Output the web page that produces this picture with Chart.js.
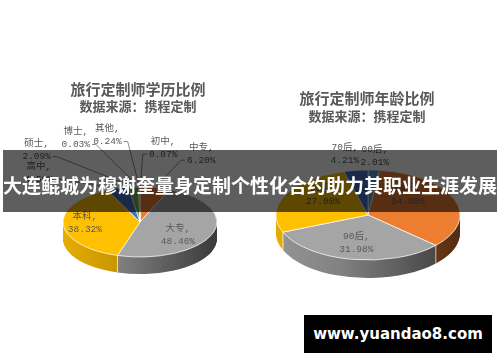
<!DOCTYPE html>
<html><head><meta charset="utf-8">
<script src="https://cdn.jsdelivr.net/npm/chart.js@4.4.1/dist/chart.umd.min.js"></script>
<style>
html,body{margin:0;padding:0;background:#fff;width:500px;height:362px;overflow:hidden;}
#wrap{position:relative;width:500px;height:362px;}
canvas{position:absolute;top:0;}
.t{position:absolute;color:#595959;font-family:"Noto Sans CJK SC";font-weight:700;text-align:center;white-space:nowrap;line-height:1;}
#banner{position:absolute;left:3px;top:150px;width:494px;height:62px;background:rgba(0,0,0,0.63);}
#bannerText{position:absolute;left:0;top:150px;width:500px;height:62px;line-height:70px;color:#fff;font-weight:700;font-size:19px;font-family:"Noto Sans CJK SC";text-align:center;white-space:nowrap;}
#wm{position:absolute;left:304px;top:315px;width:188px;height:38px;background:#000;color:#fff;font-weight:700;font-size:15px;font-family:"DejaVu Sans";text-align:center;line-height:38px;}
</style></head>
<body><div id="wrap">
<canvas id="c1" width="250" height="362" style="left:0"></canvas>
<canvas id="c2" width="250" height="362" style="left:250px"></canvas>
<div class="t" style="left:13px;width:250px;top:81px;font-size:15px;">旅行定制师学历比例</div>
<div class="t" style="left:13px;width:250px;top:99px;font-size:13px;">数据来源：携程定制</div>
<div class="t" style="left:242px;width:250px;top:90px;font-size:15px;">旅行定制师年龄比例</div>
<div class="t" style="left:242px;width:250px;top:109px;font-size:13px;">数据来源：携程定制</div>
<div id="banner"></div>
<div id="bannerText">大连鲲城为穆谢奎量身定制个性化合约助力其职业生涯发展</div>
<div id="wm">www.yuandao8.com</div>
</div>
<script>
// ---- data ----
const eduLabels = ['初中','中专','大专','本科','高中','硕士','博士','其他'];
const eduValues = [0.07, 6.20, 48.46, 38.32, 4.59, 2.09, 0.03, 0.24];
const ageLabels = ['00后','80后','90后','85后','70后'];
const ageValues = [2.01, 34.80, 31.98, 27.00, 4.21];

// ---- styles ----
const eduColors = ['#5B9BD5','#ED7D31','#A5A5A5','#FFC000','#4472C4','#70AD47','#264478','#9E480E'];
const ageColors = ['#5B9BD5','#ED7D31','#A5A5A5','#FFC000','#4472C4'];
const eduLabelPos = [
  {f:1,dx:23,dy:-39.5,line:true},
  {f:1,dx:46,dy:-34,line:true},
  {f:0.6,dx:-5.5,dy:5.4},
  {f:0.6,dx:-9,dy:-0.5},
  {f:1,dx:-79,dy:-16,line:true},
  {f:1,dx:-97,dy:-37,line:true},
  {f:1,dx:-63,dy:-49,line:true},
  {f:1,dx:-32,dy:-52,line:true}
];
const ageLabelPos = [
  {f:1,dx:1,dy:-14},
  {f:0.6,dx:-12,dy:-11},
  {f:0.6,dx:-2,dy:1.4},
  {f:0.6,dx:4.5,dy:-7.6},
  {f:1,dx:-11,dy:-16}
];

function shade(hex, f){
  const n=parseInt(hex.slice(1),16);
  const r=(n>>16)&255,g=(n>>8)&255,b=n&255;
  return 'rgb('+Math.round(r*f)+','+Math.round(g*f)+','+Math.round(b*f)+')';
}

function pie3d(cfg){
  return {
    id:'pie3d',
    beforeDatasetsDraw(chart){
      const ctx=chart.ctx, arcs=chart.getDatasetMeta(0).data;
      const cx=arcs[0].x, cy=arcs[0].y, r=arcs[0].outerRadius, k=cfg.k;
      const colors=chart.data.datasets[0].backgroundColor;
      const grads=colors.map(c=>{
        const g=ctx.createLinearGradient(-r,0,r,0);
        g.addColorStop(0,shade(c,0.9));
        g.addColorStop(0.35,shade(c,0.78));
        g.addColorStop(1,shade(c,0.35));
        return g;
      });
      for(let d=cfg.depth; d>=1; d--){
        arcs.forEach((a,i)=>{
          ctx.save(); ctx.translate(cx,cy+d); ctx.scale(1,k);
          ctx.beginPath(); ctx.moveTo(0,0); ctx.arc(0,0,r,a.startAngle,a.endAngle); ctx.closePath();
          ctx.fillStyle=grads[i]; ctx.fill(); ctx.restore();
        });
      }
      ctx.save();
      ctx.strokeStyle='rgba(255,255,255,0.7)'; ctx.lineWidth=1;
      arcs.forEach(a=>{
        const s=Math.sin(a.startAngle);
        if(s>0.05){
          const x=cx+r*Math.cos(a.startAngle), y=cy+k*r*s;
          ctx.beginPath(); ctx.moveTo(x,y); ctx.lineTo(x,y+cfg.depth); ctx.stroke();
        }
      });
      ctx.restore();
      ctx.save(); ctx.translate(cx,cy); ctx.scale(1,k); ctx.translate(-cx,-cy);
    },
    afterDatasetsDraw(chart){ chart.ctx.restore(); },
    afterDraw(chart){
      const ctx=chart.ctx, arcs=chart.getDatasetMeta(0).data;
      const cx=arcs[0].x, cy=arcs[0].y, r=arcs[0].outerRadius, k=cfg.k;
      const labels=chart.data.labels, values=chart.data.datasets[0].data;
      ctx.save();
      ctx.font='9.5px "Liberation Mono","Noto Sans CJK SC"';
      ctx.fillStyle='#595959'; ctx.textAlign='center'; ctx.textBaseline='middle';
      ctx.strokeStyle='#8c8c8c'; ctx.lineWidth=1;
      arcs.forEach((a,i)=>{
        const p=cfg.pos[i];
        const mid=(a.startAngle+a.endAngle)/2;
        const ax=cx+p.f*r*Math.cos(mid), ay=cy+p.f*k*r*Math.sin(mid);
        const lx=ax+p.dx, ly=ay+p.dy;
        const name=labels[i]+',', val=values[i].toFixed(2)+'%';
        ctx.fillText(name,lx,ly-6.5);
        ctx.fillText(val,lx,ly+6.5);
        if(p.line){
          const w=Math.max(ctx.measureText(name).width, ctx.measureText(val).width);
          const right = ax>lx;
          const sx = right ? lx+w/2+2 : lx-w/2-2, sy=ly+6.5;
          ctx.beginPath(); ctx.moveTo(sx,sy); ctx.lineTo(sx+(right?4:-4),sy); ctx.lineTo(ax,ay); ctx.stroke();
        }
      });
      ctx.restore();
    }
  };
}

function makeChart(id, labels, values, colors, padding, cfg){
  return new Chart(document.getElementById(id),{
    type:'pie',
    data:{labels:labels, datasets:[{data:values, backgroundColor:colors, borderColor:'#ffffff', borderWidth:1}]},
    options:{
      responsive:false, animation:false, events:[],
      layout:{padding:padding},
      plugins:{legend:{display:false}, tooltip:{enabled:false}, title:{display:false}}
    },
    plugins:[pie3d(cfg)]
  });
}

makeChart('c1', eduLabels, eduValues, eduColors,
  {left:62.5,right:32.5,top:144.5,bottom:62.5},
  {k:35/77, depth:17, pos:eduLabelPos});
makeChart('c2', ageLabels, ageValues, ageColors,
  {left:25.5,right:39.5,top:122.5,bottom:54.5},
  {k:45/92, depth:18, pos:ageLabelPos});
</script>
</body></html>
